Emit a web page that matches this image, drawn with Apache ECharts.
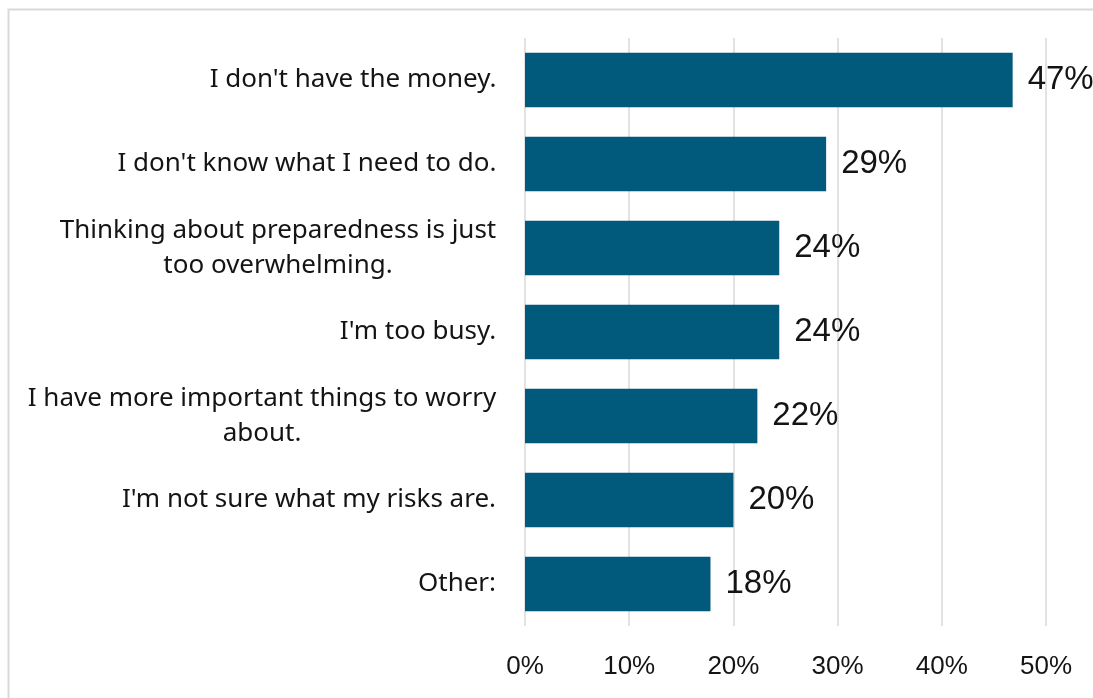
<!DOCTYPE html>
<html>
<head>
<meta charset="utf-8">
<script src="https://cdn.jsdelivr.net/npm/echarts@6/dist/echarts.min.js"></script>
<style>html,body{margin:0;padding:0;background:#fff;}#c{width:1093px;height:698px;}</style>
</head>
<body>
<div id="c"></div>
<script>
const categories = [
  "I don't have the money.",
  "I don't know what I need to do.",
  "Thinking about preparedness is just\ntoo overwhelming.",
  "I'm too busy.",
  "I have more important things to worry\nabout.",
  "I'm not sure what my risks are.",
  "Other:"
];
const values = [46.8, 28.9, 24.4, 24.4, 22.3, 20.0, 17.8];
const xTickMin = 0, xTickMax = 50, xTickStep = 10;

const catFont = '"Noto Sans", sans-serif';
const catSize = 26;
const numFont = '"Liberation Sans", Arial, sans-serif';
const textColor = '#141414';

const mctx = document.createElement('canvas').getContext('2d');
mctx.font = catSize + 'px ' + catFont;
const rich = {};
categories.forEach((c, i) => {
  const lines = c.split('\n');
  const w = Math.max(...lines.map(l => mctx.measureText(l).width));
  rich['c' + i] = { width: Math.ceil(w) + 1, align: 'center', fontFamily: catFont, fontSize: catSize, color: textColor, lineHeight: 35 };
});

const chart = echarts.init(document.getElementById('c'));
chart.setOption({
  animation: false,
  backgroundColor: '#fff',
  graphic: [{
    type: 'rect', left: 6, top: 7,
    shape: { width: 1200, height: 800 },
    style: { fill: 'none', stroke: '#d9d9d9', lineWidth: 2 },
    silent: true
  }],
  grid: { left: 525, right: 47, top: 38, bottom: 72, containLabel: false },
  xAxis: {
    type: 'value', min: xTickMin, max: xTickMax, interval: xTickStep,
    axisLine: { show: false }, axisTick: { show: false },
    splitLine: { show: true, lineStyle: { color: '#d9d9d9', width: 1.5 } },
    axisLabel: { formatter: v => v + '%', fontFamily: numFont, fontSize: 26, color: textColor, margin: 28 }
  },
  yAxis: {
    type: 'category', inverse: true, data: categories,
    axisLine: { show: false }, axisTick: { show: false },
    axisLabel: {
      margin: 28, align: 'right',
      fontFamily: catFont, fontSize: catSize, color: textColor, lineHeight: 35,
      formatter: (v, i) => v.split('\n').map(l => '{c' + i + '|' + l + '}').join('\n'),
      rich: rich
    }
  },
  series: [{
    type: 'bar', data: values, barCategoryGap: '35%',
    itemStyle: { color: '#01597C' },
    label: {
      show: true, position: 'right', distance: 15,
      formatter: p => Math.round(p.value) + '%',
      fontFamily: numFont, fontSize: 33, color: textColor
    }
  }]
});
</script>
</body>
</html>
